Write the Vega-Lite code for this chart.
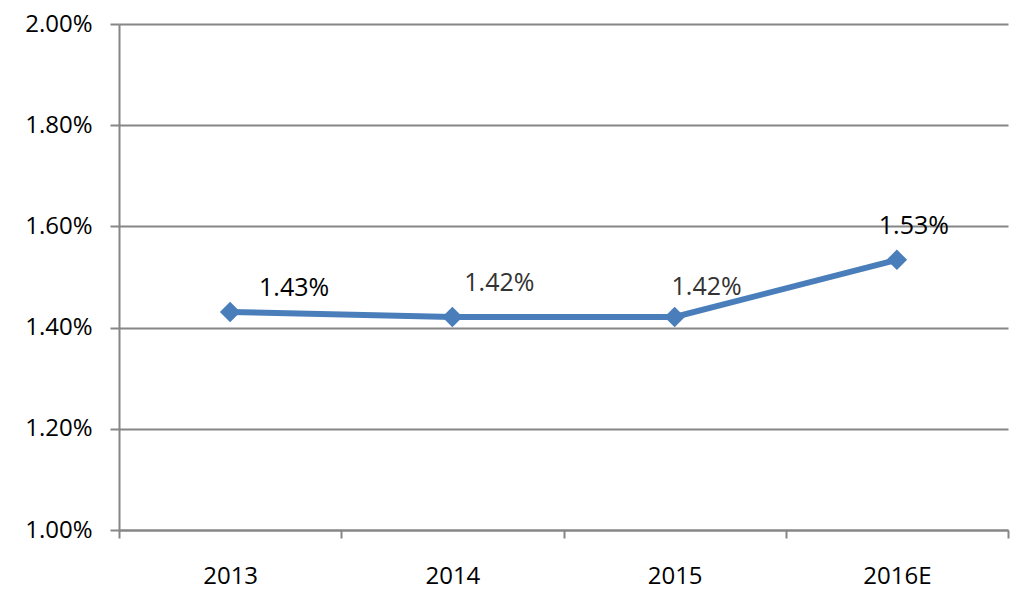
{
  "$schema": "https://vega.github.io/schema/vega-lite/v6.json",
  "width": 889,
  "height": 506,
  "autosize": "none",
  "padding": {"left": 119, "top": 24, "right": 17, "bottom": 74},
  "background": "white",
  "config": {
    "view": {"stroke": null},
    "font": "Open Sans"
  },
  "data": {
    "values": [
      {"year": "2013", "rate": 0.01431, "label": "1.43%"},
      {"year": "2014", "rate": 0.01421, "label": "1.42%"},
      {"year": "2015", "rate": 0.01421, "label": "1.42%"},
      {"year": "2016E", "rate": 0.01534, "label": "1.53%"}
    ]
  },
  "encoding": {
    "x": {
      "field": "year", "type": "ordinal", "sort": null,
      "scale": {"paddingInner": 0, "paddingOuter": 0},
      "axis": {
        "title": null, "labelAngle": 0, "labelFont": "Open Sans", "labelFontSize": 24,
        "labelColor": "#000000", "labelPadding": 26, "tickBand": "extent",
        "tickSize": 8, "tickColor": "#868686", "tickWidth": 2,
        "domainColor": "#868686", "domainWidth": 2, "grid": false
      }
    },
    "y": {
      "field": "rate", "type": "quantitative",
      "scale": {"domain": [0.01, 0.02], "nice": false, "zero": false},
      "axis": {
        "title": null, "format": ".2%", "values": [0.01, 0.012, 0.014, 0.016, 0.018, 0.02],
        "labelFont": "Open Sans", "labelFontSize": 24, "labelColor": "#000000",
        "labelPadding": 18, "tickSize": 9, "tickColor": "#868686", "tickWidth": 2,
        "domainColor": "#868686", "domainWidth": 2,
        "grid": true, "gridColor": "#868686", "gridWidth": 2
      }
    }
  },
  "layer": [
    {
      "mark": {"type": "line", "color": "#4a7ebb", "strokeWidth": 6}
    },
    {
      "mark": {"type": "point", "shape": "diamond", "filled": true, "color": "#4a7ebb", "opacity": 1, "size": 420}
    },
    {
      "transform": [{"filter": "datum.year == '2013'"}],
      "mark": {"type": "text", "dx": 64, "dy": -24, "fontSize": 25, "font": "Open Sans", "color": "#000000"},
      "encoding": {"text": {"field": "label"}}
    },
    {
      "transform": [{"filter": "datum.year == '2014'"}],
      "mark": {"type": "text", "dx": 47, "dy": -34, "fontSize": 25, "font": "Open Sans", "color": "#333333"},
      "encoding": {"text": {"field": "label"}}
    },
    {
      "transform": [{"filter": "datum.year == '2015'"}],
      "mark": {"type": "text", "dx": 32, "dy": -30, "fontSize": 25, "font": "Open Sans", "color": "#333333"},
      "encoding": {"text": {"field": "label"}}
    },
    {
      "transform": [{"filter": "datum.year == '2016E'"}],
      "mark": {"type": "text", "dx": 17, "dy": -34, "fontSize": 25, "font": "Open Sans", "color": "#000000"},
      "encoding": {"text": {"field": "label"}}
    }
  ]
}
